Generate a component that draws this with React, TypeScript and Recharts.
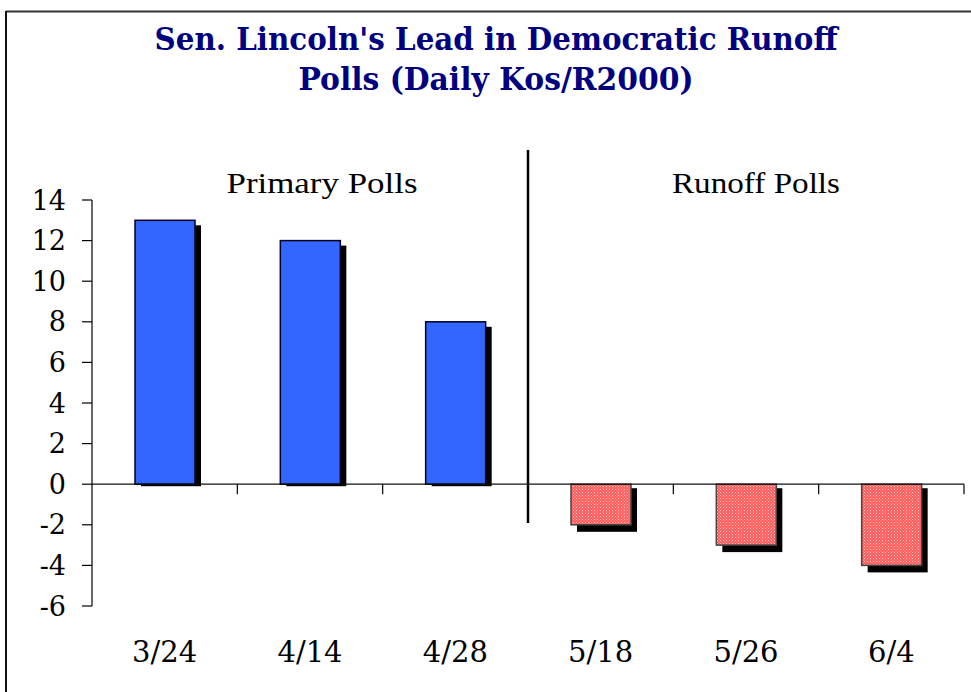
import React from "react";
import { BarChart, Bar, XAxis, YAxis, ReferenceLine } from "recharts";

const categories = ["3/24", "4/14", "4/28", "5/18", "5/26", "6/4"];
const leadValues = [13, 12, 8, -2, -3, -4];
const yTicks = [-6, -4, -2, 0, 2, 4, 6, 8, 10, 12, 14];
const titleLines = ["Sen. Lincoln's Lead in Democratic Runoff", "Polls (Daily Kos/R2000)"];
const sectionLabels = ["Primary Polls", "Runoff Polls"];

const data = categories.map((c, i) => ({ date: c, lead: leadValues[i] }));

const W = 971;
const H = 692;
const TIMES = "'Liberation Serif', 'Times New Roman', Times, serif";
const SCHOOL = "'DejaVu Serif', serif";

const ShadowBar = (props: any) => {
  const { x, y, width, height, value } = props;
  const top = Math.min(y, y + height);
  const h = Math.abs(height);
  const neg = value < 0;
  const sTop = top + (neg ? 4 : 5);
  const sBottom = top + h + (neg ? 7 : 2);
  return (
    <g>
      <rect x={x + 6} y={sTop} width={width} height={sBottom - sTop} fill="#000" />
      <rect
        x={x}
        y={top}
        width={width}
        height={h}
        fill={neg ? "url(#redDither)" : "#3366FF"}
        stroke={neg ? "#444" : "#000022"}
        strokeWidth={1.5}
      />
    </g>
  );
};

const ZeroAxis = (props: any) => {
  const { x1, y1, x2, y2 } = props;
  const n = categories.length;
  const step = (x2 - x1) / n;
  const ticks = [];
  for (let k = 1; k <= n; k++) {
    const tx = x1 + k * step;
    ticks.push(<line key={k} x1={tx} y1={y1} x2={tx} y2={y1 + 10} stroke="#000" strokeWidth={1.2} />);
  }
  return (
    <g>
      <line x1={x1} y1={y1} x2={x2} y2={y2} stroke="#111" strokeWidth={1.2} />
      {ticks}
    </g>
  );
};

export default function App() {
  return (
    <div style={{ position: "absolute", left: 0, top: 0, width: W, height: H, background: "#fff", overflow: "hidden" }}>
      <BarChart
        width={W}
        height={H}
        data={data}
        margin={{ top: 200, right: 7, bottom: 0, left: 0 }}
      >
        <defs>
          <pattern id="redDither" width="3" height="3" patternUnits="userSpaceOnUse">
            <rect width="3" height="3" fill="#FF5C5C" />
            <rect x="0" y="0" width="1" height="1" fill="#FFC8C8" />
            <rect x="1.5" y="1.5" width="1" height="1" fill="#FFB0B0" />
          </pattern>
        </defs>
        <XAxis
          dataKey="date"
          axisLine={false}
          tickLine={false}
          height={86}
          tickMargin={29}
          interval={0}
          tick={{ fill: "#000", fontSize: 29, fontFamily: SCHOOL }}
        />
        <YAxis
          domain={[-6, 14]}
          ticks={yTicks}
          interval={0}
          width={92}
          tickSize={10}
          tickMargin={16}
          axisLine={{ stroke: "#000", strokeWidth: 1.2 }}
          tickLine={{ stroke: "#000", strokeWidth: 1.2 }}
          tick={{ fill: "#000", fontSize: 27, fontFamily: SCHOOL }}
        />
        <ReferenceLine y={0} shape={ZeroAxis} />
        <Bar dataKey="lead" barSize={60} shape={ShadowBar} isAnimationActive={false} />
      </BarChart>
      <svg
        width={W}
        height={H}
        style={{ position: "absolute", left: 0, top: 0, pointerEvents: "none" }}
      >
        <line x1={6} y1={11.5} x2={W} y2={11.5} stroke="#333" strokeWidth={2} />
        <line x1={6} y1={11} x2={6} y2={H} stroke="#111" strokeWidth={2} />
        <text
          x={496}
          y={50}
          textAnchor="middle"
          fill="#000080"
          style={{ fontFamily: SCHOOL, fontWeight: "bold", fontSize: 32 }}
          textLength={683}
          lengthAdjust="spacingAndGlyphs"
        >
          {titleLines[0]}
        </text>
        <text
          x={496}
          y={90}
          textAnchor="middle"
          fill="#000080"
          style={{ fontFamily: SCHOOL, fontWeight: "bold", fontSize: 32 }}
          textLength={395}
          lengthAdjust="spacingAndGlyphs"
        >
          {titleLines[1]}
        </text>
        <text
          x={322}
          y={193}
          textAnchor="middle"
          fill="#000"
          style={{ fontFamily: TIMES, fontSize: 30 }}
          textLength={191}
          lengthAdjust="spacingAndGlyphs"
        >
          {sectionLabels[0]}
        </text>
        <text
          x={756}
          y={193}
          textAnchor="middle"
          fill="#000"
          style={{ fontFamily: TIMES, fontSize: 30 }}
          textLength={168}
          lengthAdjust="spacingAndGlyphs"
        >
          {sectionLabels[1]}
        </text>
        <line x1={528} y1={150} x2={528} y2={523} stroke="#000" strokeWidth={2.5} />
      </svg>
    </div>
  );
}
